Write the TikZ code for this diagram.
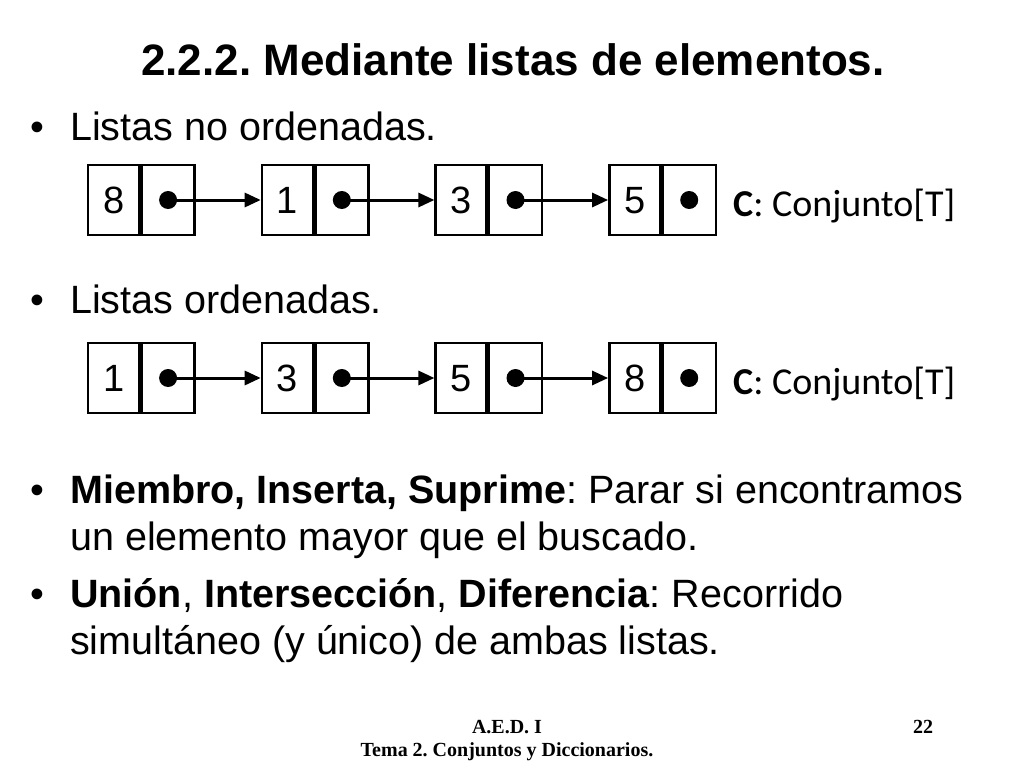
\documentclass[tikz,border=0pt]{standalone}
\usepackage{fontspec}
\setmainfont{Liberation Sans}
\newfontfamily\carl{Carlito}
\newfontfamily\tms{Liberation Serif}
\usetikzlibrary{arrows.meta}
\frenchspacing
\begin{document}
\begin{tikzpicture}[x=1pt,y=-1pt,
  cell/.style={draw,line width=2.4pt,minimum width=51pt,minimum height=70pt,inner sep=0pt,text height=26pt,text depth=0pt,font=\fontsize{38}{42}\selectfont},
  ptr/.style={draw,line width=2.4pt,minimum width=53pt,minimum height=70pt,inner sep=0pt},
  dot/.style={circle,fill,minimum size=18pt,inner sep=0pt},
  link/.style={line width=3pt,-{Triangle[length=16pt,width=14pt]}},
  txt/.style={anchor=base west,inner sep=0pt,font=\fontsize{39.5}{50}\selectfont},
  foot/.style={anchor=base,font=\tms\bfseries\fontsize{20}{24}\selectfont}]
\useasboundingbox (0,0) rectangle (1024,768);
\node[anchor=base,font=\fontsize{44}{50}\selectfont\bfseries] (title) at (513,75) {2.2.2. Mediante listas de elementos.};
\node[txt] (b1) at (30,140) {•};
\node[txt] (t1) at (70,140) {Listas no ordenadas.};
\node[txt] (b2) at (30,313) {•};
\node[txt] (t2) at (70,313) {Listas ordenadas.};
\foreach \r/\y/\vals in {a/200/{8,1,3,5},b/378/{1,3,5,8}}{
  \foreach \v [count=\i] in \vals {
    \pgfmathsetmacro{\xx}{87+(\i-1)*173.7}
    \node[cell,anchor=west] (\r c\i) at (\xx,\y) {\v};
    \node[ptr,anchor=west] (\r p\i) at (\r c\i.east) {};
    \node[dot] (\r d\i) at (\r p\i.center) {};
  }
  \foreach \i/\j in {1/2,2/3,3/4} \draw[link] (\r d\i.center) -- (\r c\j.west);
  \node[anchor=west,inner sep=0pt,font=\carl\fontsize{38}{42}\selectfont] (\r lab) at (733,\y+6) {\textbf{C}: Conjunto[T]};
}
\node[txt] (b3) at (30,503) {•};
\node[txt,align=left] (t3) at (70,503) {\textbf{Miembro, Inserta, Suprime}: Parar si encontramos};
\node[txt] (t3b) at (70,550) {un elemento mayor que el buscado.};
\node[txt] (b4) at (30,607) {•};
\node[txt] (t4) at (70,607) {\textbf{Unión}, \textbf{Intersección}, \textbf{Diferencia}: Recorrido};
\node[txt] (t4b) at (70,654) {simultáneo (y único) de ambas listas.};
\node[foot] (f1) at (507,733) {A.E.D. I};
\node[foot] (f2) at (507,756) {Tema 2. Conjuntos y Diccionarios.};
\node[foot] (f3) at (923,733) {22};
\end{tikzpicture}
\end{document}
